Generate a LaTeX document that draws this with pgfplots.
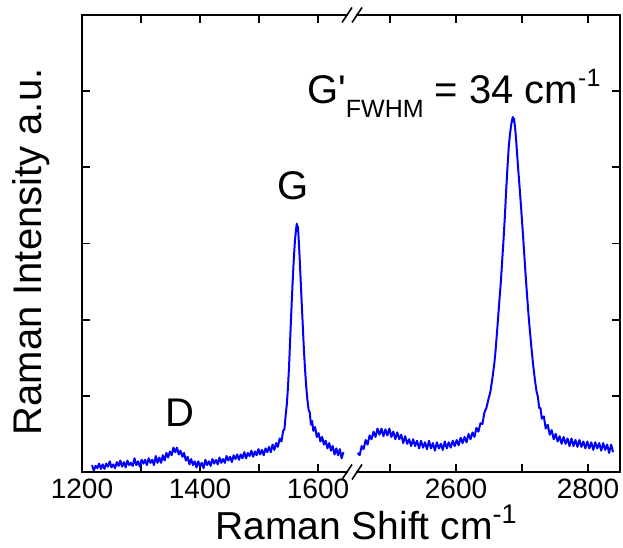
\documentclass[border=0pt]{standalone}
\usepackage{fontspec}
\setmainfont{Liberation Sans}
\usepackage{pgfplots}
\pgfplotsset{compat=1.18}
\definecolor{spec}{RGB}{0,0,255}
\pgfplotsset{
  ramanaxis/.style={
    anchor=south west, scale only axis, width=268pt, height=457pt,
    ymin=0, ymax=6, ytick={1,2,3,4,5}, yticklabels={},
    axis line style={draw=none},
    tick align=inside, major tick length=8pt,
    major tick style={line width=1.8pt, black},
    /pgf/number format/assume math mode=true,
    xticklabel style={font=\fontsize{28}{28}\selectfont, yshift=-3pt},
    clip=true,
  },
  spectrum/.style={color=spec, line width=2pt, line join=round, no markers},
}
\begin{document}
\begin{tikzpicture}
\useasboundingbox (0,0) rectangle (623pt,548pt);
\begin{axis}[ramanaxis, at={(82pt,76pt)}, xmin=1200, xmax=1654.2,
  xtick={1200,1300,1400,1500,1600}, xticklabels={1200,,1400,,1600},
  ytick pos=left]
\addplot[spectrum] coordinates {
(1217,0.09)(1220,0.02)(1223,0.08)(1226,0.05)(1229,0.11)(1232,0.04)(1235,0.10)(1238,0.04)
(1241,0.11)(1244,0.07)(1247,0.14)(1250,0.06)(1253,0.10)(1256,0.05)(1259,0.13)(1262,0.08)
(1265,0.15)(1268,0.07)(1271,0.13)(1274,0.06)(1277,0.15)(1280,0.09)(1283,0.12)(1286,0.08)
(1289,0.18)(1292,0.09)(1295,0.14)(1298,0.07)(1301,0.16)(1304,0.11)(1307,0.16)(1310,0.09)
(1313,0.18)(1316,0.12)(1319,0.16)(1322,0.09)(1325,0.21)(1328,0.12)(1331,0.19)(1334,0.12)
(1337,0.22)(1340,0.15)(1343,0.25)(1346,0.19)(1349,0.27)(1352,0.22)(1355,0.32)(1358,0.26)
(1361,0.32)(1364,0.23)(1367,0.28)(1370,0.20)(1373,0.25)(1376,0.15)(1379,0.20)(1382,0.10)
(1385,0.17)(1388,0.09)(1391,0.14)(1394,0.06)(1397,0.14)(1400,0.07)(1403,0.12)(1406,0.05)
(1409,0.16)(1412,0.09)(1415,0.14)(1418,0.08)(1421,0.17)(1424,0.11)(1427,0.16)(1430,0.10)
(1433,0.19)(1436,0.12)(1439,0.17)(1442,0.12)(1445,0.21)(1448,0.15)(1451,0.20)(1454,0.13)
(1457,0.22)(1460,0.17)(1463,0.23)(1466,0.16)(1469,0.23)(1472,0.18)(1475,0.26)(1478,0.18)
(1481,0.25)(1484,0.21)(1487,0.28)(1490,0.20)(1493,0.27)(1496,0.22)(1499,0.30)(1502,0.23)
(1505,0.29)(1508,0.22)(1511,0.31)(1514,0.26)(1517,0.33)(1520,0.26)(1523,0.36)(1526,0.29)
(1529,0.38)(1532,0.33)(1535,0.44)(1538,0.40)(1541,0.54)(1543,0.56)(1545,0.73)(1547,0.88)
(1549,1.10)(1551,1.40)(1553,1.78)(1555,2.15)(1557,2.50)(1559,2.80)(1561,3.05)(1563,3.20)
(1564,3.26)(1565,3.18)(1566,3.22)(1568,2.95)(1570,2.62)(1572,2.28)(1574,1.95)(1576,1.62)
(1578,1.35)(1580,1.12)(1582,0.95)(1584,0.82)(1586,0.78)(1588,0.62)(1590,0.67)(1592,0.54)
(1595,0.59)(1598,0.46)(1601,0.51)(1604,0.40)(1607,0.46)(1610,0.36)(1613,0.41)(1616,0.31)
(1619,0.38)(1622,0.28)(1625,0.34)(1628,0.23)(1631,0.31)(1634,0.22)(1637,0.30)(1640,0.18)
(1643,0.26)
};
\end{axis}
\begin{axis}[ramanaxis, at={(352pt,76pt)}, xmin=2442.4, xmax=2848.5,
  xtick={2500,2600,2700,2800}, xticklabels={,2600,,2800},
  ytick pos=right]
\addplot[spectrum] coordinates {
(2451,0.25)(2454,0.22)(2457,0.34)(2460,0.30)(2463,0.42)(2466,0.36)(2469,0.48)(2472,0.43)
(2475,0.53)(2478,0.46)(2481,0.57)(2484,0.49)(2487,0.57)(2490,0.47)(2493,0.56)(2496,0.48)
(2499,0.57)(2502,0.46)(2505,0.53)(2508,0.43)(2511,0.52)(2514,0.43)(2517,0.49)(2520,0.38)
(2523,0.47)(2526,0.37)(2529,0.43)(2532,0.34)(2535,0.43)(2538,0.34)(2541,0.41)(2544,0.31)
(2547,0.41)(2550,0.32)(2553,0.39)(2556,0.30)(2559,0.41)(2562,0.31)(2565,0.38)(2568,0.28)
(2571,0.39)(2574,0.31)(2577,0.37)(2580,0.29)(2583,0.40)(2586,0.31)(2589,0.39)(2592,0.32)
(2595,0.41)(2598,0.34)(2601,0.42)(2604,0.35)(2607,0.45)(2610,0.38)(2613,0.46)(2616,0.39)
(2619,0.50)(2622,0.43)(2625,0.52)(2628,0.46)(2631,0.58)(2634,0.53)(2637,0.64)(2640,0.63)
(2643,0.78)(2646,0.84)(2649,0.95)(2652,1.05)(2655,1.22)(2658,1.42)(2660,1.60)(2662,1.82)
(2664,2.05)(2666,2.28)(2668,2.50)(2670,2.78)(2672,3.05)(2674,3.35)(2676,3.70)(2678,4.00)
(2680,4.28)(2682,4.45)(2684,4.58)(2686,4.66)(2687,4.60)(2688,4.64)(2690,4.48)(2692,4.25)
(2694,4.00)(2696,3.78)(2698,3.55)(2700,3.30)(2702,3.05)(2704,2.78)(2706,2.52)(2708,2.28)
(2710,2.05)(2712,1.85)(2714,1.66)(2716,1.48)(2718,1.32)(2720,1.18)(2722,1.06)(2724,0.99)
(2726,0.84)(2728,0.84)(2730,0.70)(2733,0.73)(2736,0.57)(2739,0.62)(2742,0.49)(2745,0.55)
(2748,0.43)(2751,0.50)(2754,0.40)(2757,0.47)(2760,0.37)(2763,0.46)(2766,0.37)(2769,0.44)
(2772,0.34)(2775,0.44)(2778,0.34)(2781,0.42)(2784,0.33)(2787,0.42)(2790,0.33)(2793,0.40)
(2796,0.31)(2799,0.40)(2802,0.31)(2805,0.39)(2808,0.29)(2811,0.39)(2814,0.31)(2817,0.38)
(2820,0.28)(2823,0.38)(2826,0.29)(2829,0.36)(2832,0.25)(2835,0.36)(2838,0.26)
};
\end{axis}
% frame with axis break
\begin{scope}[line width=1.8pt, line cap=rect]
\draw (82pt,533pt) -- (82pt,76pt) -- (347pt,76pt);
\draw (357pt,76pt) -- (620pt,76pt) -- (620pt,533pt) -- (357pt,533pt);
\draw (347pt,533pt) -- (82pt,533pt);
\end{scope}
\begin{scope}[line width=1.6pt, line cap=butt]
\foreach \sx in {347,357}{
  \draw (\sx pt-5pt,68.5pt) -- (\sx pt+5pt,83.5pt);
  \draw (\sx pt-5pt,525.5pt) -- (\sx pt+5pt,540.5pt);
}
\end{scope}
% labels
\node[anchor=base west, inner sep=0pt] at (215pt,8pt)
  {\fontsize{39}{39}\selectfont Raman Shift cm\raisebox{16pt}{\fontsize{27}{27}\selectfont -1}};
\node[anchor=base, rotate=90, inner sep=0pt] at (41pt,296pt)
  {\fontsize{40}{40}\selectfont Raman Intensity a.u.};
\node[anchor=base, inner sep=0pt] at (180pt,121pt) {\fontsize{40}{40}\selectfont D};
\node[anchor=base, inner sep=0pt] at (293.5pt,348pt) {\fontsize{40}{40}\selectfont G};
\node[anchor=base west, inner sep=0pt] at (307pt,444pt)
  {\fontsize{40}{40}\selectfont G\textquotesingle\raisebox{-14pt}{\fontsize{25}{25}\selectfont FWHM} = 34 cm\raisebox{17pt}{\fontsize{25}{25}\selectfont -1}};
\end{tikzpicture}
\end{document}
